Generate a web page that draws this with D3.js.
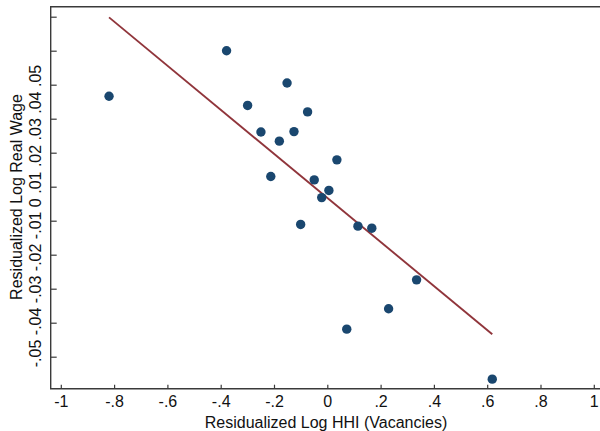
<!DOCTYPE html>
<html>
<head>
<meta charset="utf-8">
<script src="https://cdn.jsdelivr.net/npm/d3@7"></script>
<style>
  body { margin: 0; background: #fff; }
  svg { display: block; font-family: "Liberation Sans", Arial, sans-serif; }
</style>
</head>
<body>
<svg id="chart" width="600" height="431"></svg>
<script>
// data
const hhi = [-0.819, -0.378, -0.151, -0.299, -0.074, -0.249, -0.125, -0.180, 0.036, -0.212,
             -0.049, 0.006, -0.021, -0.100, 0.115, 0.167, 0.335, 0.230, 0.073, 0.619];
const wage = [0.0266, 0.0400, 0.0305, 0.0239, 0.0220, 0.0161, 0.0162, 0.0134, 0.0079, 0.0030,
              0.0020, -0.0011, -0.0032, -0.0111, -0.0116, -0.0122, -0.0274, -0.0359, -0.0419, -0.0566];

// fitted line endpoints
const fitX = [-0.819, 0.619];
const fitY = [0.0498, -0.0434];

const xTicks = [-1, -0.8, -0.6, -0.4, -0.2, 0, 0.2, 0.4, 0.6, 0.8, 1];
const xTickLabels = ["-1", "-.8", "-.6", "-.4", "-.2", "0", ".2", ".4", ".6", ".8", "1"];
const yTicks = [-0.05, -0.04, -0.03, -0.02, -0.01, 0, 0.01, 0.02, 0.03, 0.04, 0.05];
const yTickLabels = ["-.05", "-.04", "-.03", "-.02", "-.01", "0", ".01", ".02", ".03", ".04", ".05"];

const svg = d3.select("#chart");
const width = 600, height = 431;

// plot frame
const frame = { left: 50.7, top: 6.7, bottom: 388.7, right: 600 };

const x = d3.scaleLinear().domain([-1, 1]).range([60.8, 593.8]);
const y = d3.scaleLinear().domain([-0.05, 0.05]).range([356.7, 16.7]);

const axisColor = "#3a3a3a";
const navy = "#1a476f";
const maroon = "#90353b";
const fontSize = "16px";

// x axis ticks (pointing inward)
const xAxis = svg.append("g")
  .attr("transform", `translate(0,${frame.bottom})`)
  .call(d3.axisBottom(x)
    .tickValues(xTicks)
    .tickSize(-4)
    .tickPadding(7)
    .tickFormat((d, i) => xTickLabels[i]));
xAxis.select(".domain").remove();
xAxis.selectAll("line").attr("stroke", axisColor).attr("stroke-width", 1.2);
xAxis.selectAll("text")
  .attr("fill", "#111")
  .style("font-size", fontSize)
  .style("font-family", "'Liberation Sans', Arial, sans-serif");

// y axis ticks, no per-tick labels
const yAxis = svg.append("g")
  .attr("transform", `translate(${frame.left},0)`)
  .call(d3.axisLeft(y).tickValues(yTicks).tickSize(-6).tickFormat(""));
yAxis.select(".domain").remove();
yAxis.selectAll("line").attr("stroke", axisColor).attr("stroke-width", 1.2);

// frame lines: top, left, bottom
svg.append("path")
  .attr("d", `M${frame.right},${frame.top}H${frame.left}V${frame.bottom}H${frame.right}`)
  .attr("fill", "none")
  .attr("stroke", axisColor)
  .attr("stroke-width", 1.4);

// y tick labels as one rotated string (as in the original)
svg.append("text")
  .attr("transform", "translate(41,216) rotate(-90)")
  .attr("text-anchor", "middle")
  .attr("fill", "#111")
  .style("font-size", fontSize)
  .text(yTickLabels.join(" "));

// axis titles
svg.append("text")
  .attr("transform", "translate(22,197) rotate(-90)")
  .attr("text-anchor", "middle")
  .attr("fill", "#111")
  .style("font-size", fontSize)
  .text("Residualized Log Real Wage");

svg.append("text")
  .attr("x", 326)
  .attr("y", 428)
  .attr("text-anchor", "middle")
  .attr("fill", "#111")
  .style("font-size", fontSize)
  .text("Residualized Log HHI (Vacancies)");

// fitted line
const fit = fitX.map((v, i) => ({ x: v, y: fitY[i] }));
svg.append("path")
  .datum(fit)
  .attr("fill", "none")
  .attr("stroke", maroon)
  .attr("stroke-width", 1.9)
  .attr("d", d3.line().x(d => x(d.x)).y(d => y(d.y)));

// scatter points
const pts = hhi.map((v, i) => ({ x: v, y: wage[i] }));
svg.selectAll("circle.point")
  .data(pts)
  .enter()
  .append("circle")
  .attr("class", "point")
  .attr("cx", d => x(d.x))
  .attr("cy", d => y(d.y))
  .attr("r", 4.7)
  .attr("fill", navy);
</script>
</body>
</html>
